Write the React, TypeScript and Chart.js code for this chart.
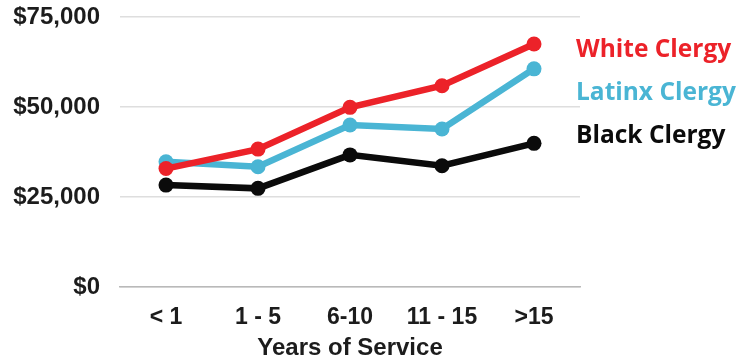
import React, { useEffect, useRef } from "react";
import { Chart, registerables } from "chart.js";

Chart.register(...registerables);

const categories = ["< 1", "1 - 5", "6-10", "11 - 15", ">15"];
const whiteClergy = [32900, 38300, 49900, 55900, 67500];
const latinxClergy = [34800, 33400, 45000, 43900, 60600];
const blackClergy = [28300, 27400, 36700, 33700, 39900];
const yTicks = [0, 25000, 50000, 75000];

const seriesNames = ["White Clergy", "Latinx Clergy", "Black Clergy"];
const seriesColors = ["#ec2229", "#4ab5d4", "#0b0b0b"];

// Series names written to the right of the plot, in the lines' colours
const sideLabels = {
  id: "sideLabels",
  afterDatasetsDraw(chart: Chart) {
    const { ctx, chartArea } = chart;
    ctx.save();
    ctx.font = "bold 24.5px 'Open Sans'";
    ctx.textAlign = "left";
    ctx.textBaseline = "alphabetic";
    const offsets = [39.5, 82.8, 126];
    chart.data.datasets.forEach((ds, i) => {
      ctx.fillStyle = ds.borderColor as string;
      ctx.fillText(ds.label as string, chartArea.right - 4, chartArea.top + offsets[i]);
    });
    ctx.restore();
  },
};

export default function App() {
  const canvasRef = useRef<HTMLCanvasElement | null>(null);

  useEffect(() => {
    if (!canvasRef.current) return;
    const series = [whiteClergy, latinxClergy, blackClergy];
    const chart = new Chart(canvasRef.current, {
      type: "line",
      data: {
        labels: categories,
        datasets: series.map((values, i) => ({
          label: seriesNames[i],
          data: values,
          borderColor: seriesColors[i],
          backgroundColor: seriesColors[i],
          pointBackgroundColor: seriesColors[i],
          pointBorderColor: seriesColors[i],
          borderWidth: 6.5,
          pointRadius: 7.5,
          pointBorderWidth: 0,
          tension: 0,
          fill: false,
        })),
      },
      options: {
        animation: false,
        responsive: true,
        maintainAspectRatio: false,
        layout: { padding: { top: 17, right: 158, left: 0, bottom: 0 } },
        plugins: {
          legend: { display: false },
          tooltip: { enabled: false },
        },
        scales: {
          x: {
            offset: true,
            grid: { display: false, drawTicks: false },
            border: { display: true, color: "#b9b9b9", width: 1.5 },
            ticks: {
              color: "#1c1c1c",
              padding: 17,
              font: { family: "'Liberation Sans', Arial", size: 23, weight: "bold" },
            },
            title: {
              display: true,
              text: "Years of Service",
              color: "#1c1c1c",
              padding: { top: 0, bottom: 0 },
              font: { family: "'Liberation Sans', Arial", size: 24, weight: "bold", lineHeight: 1 },
            },
            afterFit(scale: any) {
              scale.height = 73;
              scale.paddingLeft = 0;
              scale.paddingRight = 0;
            },
          },
          y: {
            min: 0,
            max: 75000,
            afterBuildTicks(scale: any) {
              scale.ticks = yTicks.map((v) => ({ value: v }));
            },
            grid: {
              drawTicks: false,
              color: "#dedede",
              lineWidth: 1.5,
            },
            border: { display: false },
            ticks: {
              color: "#1c1c1c",
              padding: 20,
              font: { family: "'Liberation Sans', Arial", size: 24, weight: "bold" },
              callback: (v: any) => "$" + Number(v).toLocaleString("en-US"),
            },
            afterFit(scale: any) {
              scale.width = 120;
              scale.paddingTop = 0;
              scale.paddingBottom = 0;
            },
          },
        },
      },
      plugins: [sideLabels],
    });
    return () => chart.destroy();
  }, []);

  return (
    <div style={{ position: "absolute", left: 0, top: 0, width: 738, height: 360, background: "#fff" }}>
      <canvas ref={canvasRef} />
    </div>
  );
}
